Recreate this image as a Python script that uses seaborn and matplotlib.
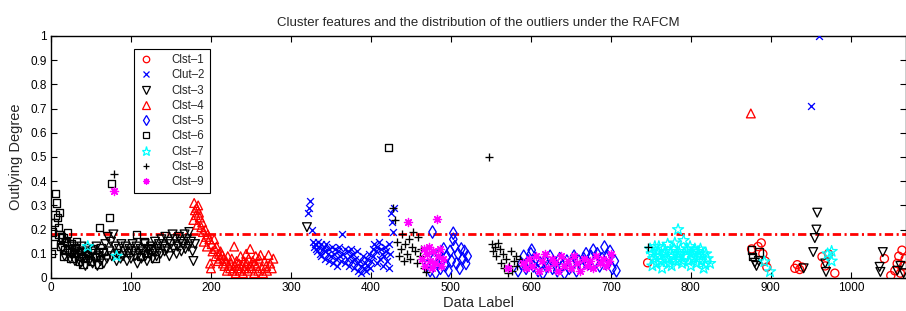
import numpy as np
import pandas as pd
import matplotlib
matplotlib.use("Agg")
import matplotlib.pyplot as plt
import seaborn as sns
from matplotlib.lines import Line2D
from matplotlib.ticker import FormatStrFormatter, MultipleLocator

# ---------------- data ----------------
x1 = [746, 876, 884, 888, 890, 893, 895, 930, 933, 936,
      939, 964, 968, 972, 980, 1042, 1050, 1055, 1058, 1060,
      1062, 1064, 1066, 1068]
y1 = [0.063, 0.12, 0.13, 0.145, 0.10, 0.07, 0.045, 0.04, 0.055, 0.035,
      0.045, 0.088, 0.05, 0.10, 0.02, 0.08, 0.01, 0.03, 0.06, 0.09,
      0.02, 0.115, 0.05, 0.08]

x2 = [321, 323, 324, 326, 327, 329, 330, 331, 332, 334,
      335, 336, 337, 338, 340, 341, 342, 343, 344, 346,
      347, 348, 350, 351, 352, 354, 355, 356, 358, 359,
      360, 361, 363, 364, 365, 367, 368, 370, 371, 372,
      374, 375, 376, 378, 379, 380, 382, 383, 384, 386,
      387, 388, 390, 391, 392, 394, 395, 396, 398, 399,
      400, 402, 403, 404, 406, 407, 408, 410, 411, 412,
      414, 415, 416, 418, 419, 420, 422, 423, 424, 425,
      426, 428, 429, 950, 960]
y2 = [0.27, 0.29, 0.32, 0.20, 0.15, 0.13, 0.14, 0.12, 0.11, 0.15,
      0.13, 0.10, 0.14, 0.09, 0.12, 0.13, 0.08, 0.11, 0.14, 0.10,
      0.07, 0.12, 0.09, 0.13, 0.06, 0.10, 0.12, 0.08, 0.05, 0.11,
      0.13, 0.09, 0.07, 0.18, 0.10, 0.12, 0.06, 0.08, 0.11, 0.05,
      0.09, 0.12, 0.07, 0.10, 0.04, 0.08, 0.06, 0.11, 0.03, 0.07,
      0.02, 0.05, 0.09, 0.04, 0.06, 0.03, 0.08, 0.05, 0.10, 0.04,
      0.07, 0.12, 0.09, 0.14, 0.11, 0.06, 0.13, 0.15, 0.08, 0.12,
      0.10, 0.05, 0.09, 0.13, 0.11, 0.07, 0.14, 0.04, 0.10, 0.27,
      0.23, 0.19, 0.29, 0.71, 1.00]

x3 = [14, 17, 19, 22, 24, 26, 28, 30, 31, 33,
      35, 37, 38, 40, 42, 43, 45, 47, 48, 50,
      52, 53, 55, 57, 58, 60, 62, 63, 65, 66,
      68, 70, 71, 73, 75, 76, 78, 80, 82, 83,
      85, 87, 88, 90, 92, 93, 95, 97, 98, 100,
      102, 103, 105, 107, 108, 110, 112, 113, 115, 117,
      118, 120, 122, 123, 125, 127, 128, 130, 132, 133,
      135, 137, 138, 140, 142, 143, 145, 147, 148, 150,
      152, 153, 155, 157, 158, 160, 162, 163, 165, 167,
      168, 170, 172, 173, 175, 177, 178, 180, 320, 880,
      882, 885, 941, 953, 955, 957, 958, 968, 969, 1036,
      1037, 1040, 1058, 1062, 1066]
y3 = [0.12, 0.09, 0.14, 0.10, 0.08, 0.13, 0.11, 0.07, 0.12, 0.09,
      0.10, 0.06, 0.13, 0.08, 0.11, 0.05, 0.09, 0.12, 0.07, 0.10,
      0.06, 0.11, 0.08, 0.13, 0.05, 0.09, 0.07, 0.12, 0.10, 0.06,
      0.14, 0.08, 0.17, 0.11, 0.15, 0.09, 0.18, 0.13, 0.07, 0.10,
      0.12, 0.08, 0.14, 0.09, 0.11, 0.13, 0.07, 0.10, 0.12, 0.08,
      0.14, 0.11, 0.09, 0.13, 0.06, 0.10, 0.12, 0.08, 0.11, 0.14,
      0.09, 0.07, 0.12, 0.10, 0.13, 0.08, 0.11, 0.15, 0.09, 0.12,
      0.14, 0.10, 0.16, 0.13, 0.11, 0.17, 0.12, 0.15, 0.09, 0.14,
      0.18, 0.12, 0.16, 0.10, 0.13, 0.17, 0.15, 0.11, 0.14, 0.18,
      0.12, 0.16, 0.13, 0.19, 0.15, 0.11, 0.07, 0.14, 0.21, 0.063,
      0.05, 0.07, 0.04, 0.107, 0.165, 0.20, 0.27, 0.06, 0.025, 0.046,
      0.025, 0.107, 0.03, 0.05, 0.02]

x4 = [178, 179, 180, 181, 182, 183, 184, 185, 186, 188,
      189, 190, 191, 193, 194, 195, 196, 198, 199, 200,
      201, 202, 204, 205, 206, 207, 209, 210, 211, 212,
      214, 215, 216, 217, 219, 220, 221, 222, 224, 225,
      226, 227, 229, 230, 231, 232, 234, 235, 236, 237,
      239, 240, 241, 242, 244, 245, 246, 247, 249, 250,
      251, 252, 254, 255, 256, 257, 259, 260, 262, 264,
      265, 267, 269, 270, 272, 274, 276, 278, 875]
y4 = [0.24, 0.31, 0.28, 0.26, 0.29, 0.22, 0.30, 0.27, 0.25, 0.21,
      0.23, 0.19, 0.15, 0.20, 0.17, 0.13, 0.18, 0.16, 0.06, 0.04,
      0.14, 0.11, 0.16, 0.12, 0.09, 0.13, 0.07, 0.10, 0.08, 0.11,
      0.095, 0.06, 0.08, 0.05, 0.07, 0.03, 0.09, 0.05, 0.04, 0.06,
      0.08, 0.03, 0.13, 0.05, 0.02, 0.07, 0.04, 0.06, 0.03, 0.09,
      0.05, 0.02, 0.07, 0.04, 0.10, 0.06, 0.03, 0.08, 0.12, 0.05,
      0.04, 0.07, 0.02, 0.06, 0.09, 0.05, 0.03, 0.08, 0.095, 0.04,
      0.02, 0.07, 0.05, 0.03, 0.095, 0.06, 0.04, 0.08, 0.68]

x5 = [470, 474, 477, 479, 481, 483, 485, 487, 489, 491,
      493, 495, 497, 499, 501, 503, 503, 505, 507, 509,
      511, 513, 515, 517, 519, 521, 584, 588, 591, 594,
      597, 600, 601, 603, 606, 609, 612, 615, 618, 621,
      624, 627, 630, 633, 636, 639, 642, 645, 648, 651,
      654, 657, 660, 663, 666, 669, 672, 675, 678, 680,
      683, 686, 689, 692, 694, 696, 699, 702, 705, 707]
y5 = [0.05, 0.03, 0.19, 0.08, 0.02, 0.06, 0.10, 0.04, 0.07, 0.12,
      0.05, 0.09, 0.03, 0.11, 0.07, 0.185, 0.16, 0.13, 0.06, 0.10,
      0.04, 0.12, 0.08, 0.11, 0.06, 0.09, 0.03, 0.06, 0.09, 0.04,
      0.07, 0.10, 0.115, 0.05, 0.08, 0.03, 0.06, 0.02, 0.07, 0.05,
      0.09, 0.04, 0.06, 0.03, 0.08, 0.05, 0.02, 0.07, 0.04, 0.06,
      0.09, 0.03, 0.07, 0.05, 0.08, 0.10, 0.06, 0.09, 0.115, 0.07,
      0.10, 0.05, 0.08, 0.128, 0.06, 0.09, 0.11, 0.04, 0.07, 0.03]

x6 = [1, 2, 3, 4, 5, 6, 7, 8, 9, 10,
      11, 12, 13, 15, 16, 17, 19, 21, 23, 25,
      26, 28, 30, 32, 34, 36, 38, 40, 43, 46,
      49, 52, 55, 59, 61, 65, 73, 76, 107, 112,
      117, 121, 125, 130, 422, 876, 877, 885]
y6 = [0.10, 0.19, 0.14, 0.23, 0.26, 0.35, 0.31, 0.25, 0.21, 0.18,
      0.27, 0.13, 0.17, 0.165, 0.09, 0.115, 0.15, 0.186, 0.12, 0.08,
      0.14, 0.10, 0.125, 0.15, 0.09, 0.07, 0.11, 0.055, 0.08, 0.10,
      0.07, 0.12, 0.09, 0.055, 0.21, 0.11, 0.25, 0.39, 0.18, 0.09,
      0.15, 0.10, 0.12, 0.08, 0.54, 0.116, 0.088, 0.107]

x7 = [46, 82, 749, 751, 753, 755, 757, 759, 761, 763,
      765, 767, 769, 771, 773, 775, 777, 779, 780, 781,
      783, 784, 785, 787, 789, 791, 793, 795, 797, 799,
      801, 803, 805, 807, 809, 811, 813, 815, 818, 821,
      824, 752, 756, 760, 764, 768, 772, 776, 786, 790,
      796, 800, 804, 808, 812, 816, 819, 892, 899, 971,
      976, 976]
y7 = [0.13, 0.09, 0.12, 0.10, 0.08, 0.13, 0.06, 0.11, 0.09, 0.07,
      0.12, 0.10, 0.08, 0.14, 0.06, 0.11, 0.09, 0.12, 0.145, 0.07,
      0.10, 0.20, 0.08, 0.12, 0.06, 0.155, 0.09, 0.11, 0.07, 0.13,
      0.10, 0.08, 0.12, 0.06, 0.11, 0.09, 0.07, 0.10, 0.054, 0.08,
      0.06, 0.05, 0.09, 0.13, 0.04, 0.11, 0.08, 0.05, 0.10, 0.07,
      0.12, 0.05, 0.11, 0.08, 0.12, 0.04, 0.10, 0.067, 0.026, 0.10,
      0.11, 0.07]

x8 = [79, 428, 430, 433, 435, 437, 439, 441, 443, 445,
      447, 449, 451, 453, 455, 457, 459, 461, 463, 466,
      469, 548, 551, 553, 555, 557, 559, 561, 563, 565,
      567, 569, 571, 573, 575, 577, 579, 581, 583, 586,
      746]
y8 = [0.43, 0.29, 0.24, 0.15, 0.09, 0.12, 0.18, 0.07, 0.14, 0.10,
      0.16, 0.08, 0.13, 0.19, 0.11, 0.06, 0.17, 0.09, 0.12, 0.04,
      0.025, 0.50, 0.14, 0.11, 0.13, 0.09, 0.145, 0.12, 0.06, 0.10,
      0.04, 0.08, 0.02, 0.05, 0.11, 0.03, 0.07, 0.09, 0.05, 0.08,
      0.13]

x9 = [79, 446, 482, 464, 466, 468, 470, 472, 474, 476,
      478, 480, 484, 486, 488, 490, 571, 590, 594, 598,
      602, 606, 610, 614, 618, 622, 626, 630, 634, 638,
      642, 646, 650, 654, 658, 662, 666, 670, 674, 678,
      682, 686, 690, 694, 698, 700]
y9 = [0.36, 0.23, 0.245, 0.08, 0.12, 0.05, 0.10, 0.13, 0.07, 0.04,
      0.11, 0.06, 0.09, 0.12, 0.05, 0.08, 0.04, 0.06, 0.04, 0.08,
      0.05, 0.09, 0.03, 0.07, 0.10, 0.04, 0.08, 0.06, 0.03, 0.09,
      0.05, 0.07, 0.04, 0.09, 0.06, 0.03, 0.08, 0.05, 0.07, 0.04,
      0.09, 0.06, 0.08, 0.05, 0.07, 0.10]

labels = ["Clst\u20131", "Clut\u20132", "Clst\u20133", "Clst\u20134", "Clst\u20135",
          "Clst\u20136", "Clst\u20137", "Clst\u20138", "Clst\u20139"]
threshold = 0.18
x_ticks = [0, 100, 200, 300, 400, 500, 600, 700, 800, 900, 1000]

# ---------------- style ----------------
sns.set_style("ticks")
plt.rcParams["font.family"] = ["Liberation Sans", "DejaVu Sans"]
plt.rcParams["lines.scale_dashes"] = False

fig = plt.figure(figsize=(9.06, 3.11), dpi=100)
ax = fig.add_axes([51 / 906, 33 / 311, 855 / 906, 242 / 311])

ASTER = (8, 2, 0)
styles = [
    ("o", (1, 0, 0), True, 34),
    ("x", (0, 0, 1), False, 24),
    ("v", (0, 0, 0), True, 40),
    ("^", (1, 0, 0), True, 40),
    ("d", (0, 0, 1), True, 40),
    ("s", (0, 0, 0), True, 28),
    ("*", (0, 1, 1), True, 70),
    ("+", (0, 0, 0), False, 38),
    (ASTER, (1, 0, 1), False, 34),
]
xs = [x1, x2, x3, x4, x5, x6, x7, x8, x9]
ys = [y1, y2, y3, y4, y5, y6, y7, y8, y9]

for (m, c, open_, s), xv, yv in zip(styles, xs, ys):
    df = pd.DataFrame({"x": xv, "y": yv})
    if open_:
        sns.scatterplot(data=df, x="x", y="y", marker=m, s=s, color=c,
                        facecolor="none", edgecolor=c, linewidth=0.95, ax=ax,
                        legend=False, zorder=3)
    else:
        sns.scatterplot(data=df, x="x", y="y", marker=m, s=s, color=c,
                        edgecolor=c, linewidth=0.95, ax=ax, legend=False,
                        zorder=3)

ax.axhline(threshold, color=(1, 0, 0), lw=2, ls=(0, (6, 2.5, 1.5, 2.5)), zorder=2)

ax.set_xlim(0, 1069)
ax.set_ylim(0, 1)
ax.set_xticks(x_ticks)
ax.yaxis.set_major_locator(MultipleLocator(0.1))
ax.yaxis.set_major_formatter(FormatStrFormatter("%g"))
ax.tick_params(direction="in", length=4, width=0.8, top=True, right=True,
               labelsize=8.5, pad=3, colors="black")
for sp in ax.spines.values():
    sp.set_linewidth(1.0)
    sp.set_color("black")

ax.set_xlabel("Data Label", fontsize=10.5, labelpad=1)
ax.set_ylabel("Outlying Degree", fontsize=10.5, labelpad=5)
ax.set_title("Cluster features and the distribution of the outliers under the RAFCM",
             fontsize=9.5, pad=7)

handles = []
for (m, c, open_, s) in styles:
    if open_:
        h = Line2D([], [], ls="none", marker=m, mfc="none", mec=c, mew=0.9,
                   ms=np.sqrt(s) * 0.8)
    else:
        h = Line2D([], [], ls="none", marker=m, color=c, mec=c, mew=0.9,
                   ms=np.sqrt(s) * 0.8)
    handles.append(h)
leg = ax.legend(handles, labels, loc="upper left", bbox_to_anchor=(0.097, 0.946),
                borderaxespad=0, fontsize=8.3, frameon=True, fancybox=False,
                framealpha=1, edgecolor="black", handlelength=1.2,
                handletextpad=1.6, labelspacing=0.28, borderpad=0.45)
leg.get_frame().set_linewidth(0.8)

fig.savefig("out.png", dpi=100)
